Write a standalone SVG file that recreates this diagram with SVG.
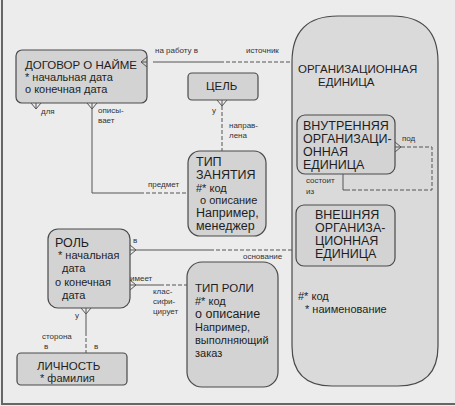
<svg xmlns="http://www.w3.org/2000/svg" width="455" height="406" viewBox="0 0 455 406">
<style>
text{font-family:"Liberation Sans",Arial,sans-serif;fill:#1e1e1e}
.t{font-size:11.5px}
.m{font-size:12.5px}
.s{font-size:11px}
.l{font-size:8px;fill:#333}
.box{fill:#d3d3d3;stroke:#4a4a4a;stroke-width:1.2}
.big{fill:#dadada;stroke:#4a4a4a;stroke-width:1.2}
.ln{fill:none;stroke:#555;stroke-width:1}
.dash{fill:none;stroke:#555;stroke-width:1;stroke-dasharray:4 2}
</style>
<defs>
<path id="crow" d="M-5,0 L0,6 L5,0 M0,0 L0,6" fill="none" stroke="#555" stroke-width="1"/>
</defs>
<rect x="0" y="0" width="455" height="406" fill="#ececec"/>
<path d="M2,0 V404 H455" fill="none" stroke="#666" stroke-width="2"/>

<g id="org">
<path class="big" d="M338,16 H392 Q438,16 438,62 V346 Q438,386 398,386 H332 Q292,386 292,346 V62 Q292,16 338,16 Z"/>
<text class="t" x="298" y="73">ОРГАНИЗАЦИОННАЯ</text>
<text class="t" x="318" y="86">ЕДИНИЦА</text>
<text class="s" x="298" y="300">#* код</text>
<text class="s" x="305" y="313">* наименование</text>
</g>
<g id="inner">
<rect class="box" x="297" y="115" width="98" height="59" rx="8"/>
<text class="m" x="303" y="130">ВНУТРЕННЯЯ</text>
<text class="m" x="303" y="143">ОРГАНИЗАЦИ-</text>
<text class="m" x="303" y="156">ОННАЯ</text>
<text class="m" x="303" y="169">ЕДИНИЦА</text>
</g>
<g id="outer">
<rect class="box" x="296" y="205" width="99" height="61" rx="8"/>
<text class="m" x="315" y="219">ВНЕШНЯЯ</text>
<text class="m" x="315" y="232">ОРГАНИЗА-</text>
<text class="m" x="315" y="245">ЦИОННАЯ</text>
<text class="m" x="315" y="258">ЕДИНИЦА</text>
</g>
<g id="contract">
<rect class="box" x="16" y="50" width="131" height="53" rx="6"/>
<text class="t" x="25" y="69">ДОГОВОР О НАЙМЕ</text>
<text class="s" x="25" y="81">* начальная дата</text>
<text class="s" x="25" y="93">o конечная дата</text>
</g>
<g id="goal">
<rect class="box" x="188" y="73" width="70" height="27" rx="4"/>
<text class="t" x="206" y="90">ЦЕЛЬ</text>
</g>
<g id="jobtype">
<rect class="box" x="188" y="151" width="78" height="85" rx="12"/>
<text class="m" x="196" y="166">ТИП</text>
<text class="m" x="196" y="179">ЗАНЯТИЯ</text>
<text class="s" x="196" y="192">#* код</text>
<text class="s" x="200" y="204">o описание</text>
<text class="m" x="196" y="217">Например,</text>
<text class="m" x="196" y="230">менеджер</text>
</g>
<g id="role">
<rect class="box" x="48" y="229" width="82" height="79" rx="10"/>
<text class="m" x="55" y="247">РОЛЬ</text>
<text class="s" x="58" y="259">* начальная</text>
<text class="s" x="62" y="272">дата</text>
<text class="s" x="55" y="286">o конечная</text>
<text class="s" x="62" y="299">дата</text>
</g>
<g id="roletype">
<rect class="box" x="187" y="262" width="91" height="125" rx="15"/>
<text class="t" x="195" y="292">ТИП РОЛИ</text>
<text class="s" x="195" y="305">#* код</text>
<text class="m" x="195" y="318">o описание</text>
<text class="s" x="195" y="331">Например,</text>
<text class="s" x="195" y="344">выполняющий</text>
<text class="s" x="195" y="357">заказ</text>
</g>
<g id="person">
<rect class="box" x="17" y="353" width="110" height="32" rx="4"/>
<text class="t" x="37" y="370">ЛИЧНОСТЬ</text>
<text class="s" x="40" y="382">* фамилия</text>
</g>

<g id="connectors">
<path class="ln" d="M153,62 H220"/>
<path class="dash" d="M220,62 H292"/>
<use href="#crow" transform="translate(147,62) rotate(90)"/>
<text class="l" x="155" y="53">на работу в</text>
<text class="l" x="246" y="53">источник</text>

<use href="#crow" transform="translate(36,103)"/>
<text class="l" x="41" y="114">для</text>

<path class="ln" d="M92,109 V193 H140"/>
<path class="dash" d="M140,193 H188"/>
<use href="#crow" transform="translate(92,103)"/>
<text class="l" x="98" y="113">описы-</text>
<text class="l" x="98" y="123">вает</text>
<text class="l" x="148" y="187">предмет</text>

<path class="dash" d="M222,106 V151"/>
<use href="#crow" transform="translate(222,100)"/>
<text class="l" x="212" y="113">у</text>
<text class="l" x="229" y="128">направ-</text>
<text class="l" x="229" y="138">лена</text>

<path class="dash" d="M401,147 H432 V190 H346"/>
<path class="ln" d="M346,190 H343 V174"/>
<use href="#crow" transform="translate(395,147) rotate(-90)"/>
<text class="l" x="402" y="141">под</text>
<text class="l" x="306" y="183">состоит</text>
<text class="l" x="306" y="194">из</text>

<path class="ln" d="M136,250 H210"/>
<path class="dash" d="M210,250 H292"/>
<use href="#crow" transform="translate(130,250) rotate(-90)"/>
<text class="l" x="133" y="243">в</text>
<text class="l" x="243" y="259">основание</text>

<path class="ln" d="M136,285 H160"/>
<path class="dash" d="M160,285 H187"/>
<use href="#crow" transform="translate(130,285) rotate(-90)"/>
<text class="l" x="130" y="281">имеет</text>
<text class="l" x="153" y="294">клас-</text>
<text class="l" x="153" y="304">сифи-</text>
<text class="l" x="153" y="314">цирует</text>

<path class="ln" d="M86,314 V332"/>
<path class="dash" d="M86,332 V353"/>
<use href="#crow" transform="translate(86,308)"/>
<text class="l" x="75" y="318">у</text>
<text class="l" x="42" y="339">сторона</text>
<text class="l" x="44" y="349">в</text>
<text class="l" x="94" y="349">в</text>
</g>
</svg>
